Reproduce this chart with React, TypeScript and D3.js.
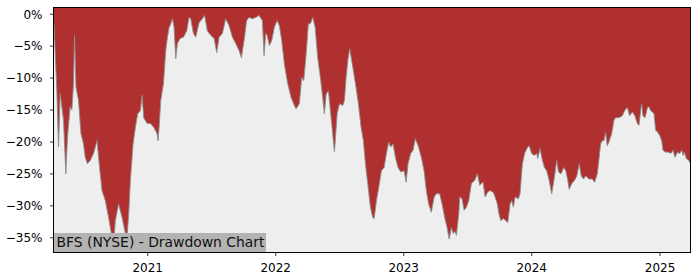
import React from "react";
import * as d3 from "d3";

// Dates as decimal years, drawdown in percent
const years: number[] = [
  2020.266, 2020.271, 2020.292, 2020.305, 2020.318, 2020.344, 2020.362, 2020.375, 2020.396, 2020.409,
  2020.422, 2020.430, 2020.441, 2020.461, 2020.480, 2020.500, 2020.513, 2020.531, 2020.552, 2020.578,
  2020.605, 2020.625, 2020.644, 2020.670, 2020.695, 2020.716, 2020.730, 2020.748, 2020.773, 2020.800,
  2020.826, 2020.839, 2020.852, 2020.865, 2020.886, 2020.904, 2020.922, 2020.943, 2020.956, 2020.969,
  2020.995, 2021.021, 2021.047, 2021.073, 2021.081, 2021.089, 2021.102, 2021.123, 2021.141, 2021.154,
  2021.167, 2021.180, 2021.193, 2021.206, 2021.219, 2021.232, 2021.253, 2021.279, 2021.305, 2021.323,
  2021.336, 2021.357, 2021.375, 2021.402, 2021.427, 2021.445, 2021.466, 2021.492, 2021.519, 2021.539,
  2021.558, 2021.584, 2021.609, 2021.636, 2021.662, 2021.688, 2021.714, 2021.732, 2021.753, 2021.773,
  2021.792, 2021.818, 2021.844, 2021.870, 2021.896, 2021.909, 2021.922, 2021.933, 2021.951, 2021.969,
  2021.990, 2022.011, 2022.029, 2022.047, 2022.068, 2022.094, 2022.120, 2022.146, 2022.159, 2022.185,
  2022.203, 2022.219, 2022.238, 2022.255, 2022.271, 2022.289, 2022.308, 2022.328, 2022.349, 2022.367,
  2022.380, 2022.394, 2022.412, 2022.433, 2022.445, 2022.459, 2022.480, 2022.498, 2022.523, 2022.537,
  2022.550, 2022.563, 2022.578, 2022.594, 2022.609, 2022.628, 2022.646, 2022.667, 2022.685, 2022.701,
  2022.719, 2022.740, 2022.758, 2022.769, 2022.787, 2022.805, 2022.826, 2022.847, 2022.865, 2022.883,
  2022.898, 2022.917, 2022.935, 2022.956, 2022.977, 2023.003, 2023.019, 2023.034, 2023.055, 2023.073,
  2023.091, 2023.113, 2023.138, 2023.159, 2023.177, 2023.195, 2023.216, 2023.238, 2023.255, 2023.281,
  2023.300, 2023.320, 2023.339, 2023.355, 2023.373, 2023.386, 2023.400, 2023.412, 2023.430, 2023.438,
  2023.456, 2023.472, 2023.490, 2023.508, 2023.529, 2023.555, 2023.576, 2023.594, 2023.605, 2023.620,
  2023.636, 2023.655, 2023.673, 2023.701, 2023.714, 2023.732, 2023.745, 2023.758, 2023.779, 2023.797,
  2023.813, 2023.831, 2023.844, 2023.857, 2023.870, 2023.896, 2023.909, 2023.927, 2023.948, 2023.969,
  2023.980, 2024.000, 2024.021, 2024.039, 2024.047, 2024.066, 2024.078, 2024.099, 2024.117, 2024.136,
  2024.156, 2024.177, 2024.195, 2024.209, 2024.229, 2024.248, 2024.266, 2024.281, 2024.292, 2024.313,
  2024.334, 2024.352, 2024.370, 2024.386, 2024.404, 2024.422, 2024.445, 2024.472, 2024.490, 2024.511,
  2024.523, 2024.537, 2024.550, 2024.563, 2024.576, 2024.589, 2024.602, 2024.623, 2024.641, 2024.654,
  2024.680, 2024.706, 2024.727, 2024.745, 2024.763, 2024.784, 2024.804, 2024.823, 2024.836, 2024.849,
  2024.857, 2024.867, 2024.883, 2024.902, 2024.914, 2024.927, 2024.941, 2024.953, 2024.966, 2024.980,
  2024.998, 2025.013, 2025.023, 2025.045, 2025.070, 2025.084, 2025.102, 2025.117, 2025.136, 2025.153,
  2025.170, 2025.180, 2025.190, 2025.205, 2025.225, 2025.238,
];

const drawdown: number[] = [
  -1.0, -2.2, -12.0, -20.8, -12.4, -16.6, -25.0, -19.2, -14.5, -15.0,
  -10.9, -3.3, -11.4, -13.5, -18.7, -20.3, -22.4, -23.4, -22.9, -21.8,
  -19.8, -24.0, -27.6, -29.2, -31.8, -34.3, -36.8, -32.3, -29.7, -31.8,
  -34.3, -35.0, -31.3, -26.0, -20.3, -17.7, -15.6, -15.1, -12.7, -16.2,
  -17.1, -17.1, -17.7, -18.7, -19.8, -17.7, -13.5, -10.9, -5.7, -3.6,
  -2.1, -1.5, -0.7, -2.0, -7.0, -4.6, -3.8, -3.6, -2.6, -0.5,
  -0.7, -3.0, -3.6, -1.3, -0.7, -0.2, -2.6, -3.3, -3.8, -6.0,
  -3.6, -3.0, -0.7, -1.8, -3.6, -4.6, -5.7, -6.8, -4.1, -1.0,
  -0.5, -0.7, -0.5, -0.2, -1.0, -6.5, -3.0, -3.3, -4.9, -4.1,
  -2.0, -1.0, -1.8, -4.1, -7.8, -10.9, -13.0, -14.3, -14.8, -14.0,
  -9.9, -10.4, -6.2, -1.5, -1.5, -0.5, -2.0, -6.8, -9.9, -13.0,
  -15.6, -12.5, -12.0, -16.2, -18.7, -21.6, -15.6, -14.0, -14.3, -13.5,
  -9.9, -7.3, -5.4, -7.3, -9.1, -11.5, -14.0, -17.7, -19.8, -23.4,
  -26.5, -30.2, -31.8, -32.0, -29.2, -27.1, -24.5, -24.0, -21.8, -20.0,
  -20.8, -20.3, -22.4, -24.0, -24.7, -24.5, -26.3, -23.4, -21.8, -21.3,
  -19.5, -20.6, -22.4, -24.5, -27.6, -29.7, -31.0, -28.6, -28.1, -28.1,
  -29.7, -31.8, -33.4, -35.2, -33.4, -34.3, -34.0, -34.6, -31.3, -28.6,
  -28.9, -30.7, -30.2, -29.2, -26.5, -26.0, -25.0, -26.8, -26.5, -26.3,
  -28.6, -27.9, -27.6, -27.9, -28.6, -29.7, -31.3, -32.3, -32.0, -32.3,
  -32.6, -29.7, -29.2, -30.2, -28.6, -28.9, -28.1, -23.4, -21.6, -20.8,
  -20.6, -21.8, -22.1, -21.8, -22.6, -21.0, -22.4, -24.0, -24.5, -26.0,
  -28.1, -25.5, -22.9, -24.7, -25.0, -24.0, -24.5, -26.0, -27.4, -26.5,
  -26.0, -25.3, -23.4, -25.3, -25.8, -25.3, -25.8, -25.8, -26.3, -25.0,
  -22.9, -20.3, -19.8, -19.8, -18.5, -20.6, -20.0, -18.7, -16.6, -16.2,
  -16.2, -15.9, -15.0, -14.6, -15.9, -15.3, -15.9, -17.1, -17.4, -15.1,
  -14.0, -15.9, -16.2, -14.6, -14.5, -15.1, -15.3, -15.6, -18.2, -18.4,
  -19.0, -19.8, -21.3, -21.6, -21.6, -21.8, -21.3, -22.4, -21.6, -21.8,
  -21.3, -22.1, -21.6, -22.6, -22.9, -23.4,
];

const yTicks: number[] = [0, -5, -10, -15, -20, -25, -30, -35];
const yTickLabels: string[] = ["0%", "\u22125%", "\u221210%", "\u221215%", "\u221220%", "\u221225%", "\u221230%", "\u221235%"];
const xTickYears: number[] = [2021, 2022, 2023, 2024, 2025];
const title = "BFS (NYSE) - Drawdown Chart";
const yDomain: [number, number] = [-37.3, 1.05];

function fromDecimalYear(v: number): Date {
  const y = Math.floor(v);
  const s = Date.UTC(y, 0, 1);
  const e = Date.UTC(y + 1, 0, 1);
  return new Date(s + (v - y) * (e - s));
}

const W = 700;
const H = 280;
const M = { left: 53.5, right: 690.5, top: 7.5, bottom: 252.5 };
const FONT = "DejaVu Sans, sans-serif";

export default function App() {
  const data = years.map((yr, i) => ({ date: fromDecimalYear(yr), v: drawdown[i] }));
  const x = d3
    .scaleUtc()
    .domain([data[0].date, data[data.length - 1].date])
    .range([M.left, M.right]);
  const y = d3.scaleLinear().domain(yDomain).range([M.bottom, M.top]);

  const area = d3
    .area<{ date: Date; v: number }>()
    .x((d) => x(d.date))
    .y0(M.top)
    .y1((d) => y(d.v));
  const line = d3
    .line<{ date: Date; v: number }>()
    .x((d) => x(d.date))
    .y((d) => y(d.v));

  return (
    <svg
      width={W}
      height={H}
      style={{ position: "absolute", left: 0, top: 0, display: "block" }}
      fontFamily={FONT}
    >
      <rect x={0} y={0} width={W} height={H} fill="#ffffff" />
      <rect x={M.left} y={M.top} width={M.right - M.left} height={M.bottom - M.top} fill="#eeeeee" />
      <path d={area(data) || ""} fill="#b03030" />
      <path d={line(data) || ""} fill="none" stroke="#8c8c8c" strokeWidth={0.9} />

      {/* title box */}
      <rect x={M.left} y={233} width={212.5} height={M.bottom - 233} fill="#b3b3b3" />
      <text x={56.5} y={246.8} fontSize={13.9} fill="#111">
        {title}
      </text>

      {/* spines */}
      <rect
        x={M.left}
        y={M.top}
        width={M.right - M.left}
        height={M.bottom - M.top}
        fill="none"
        stroke="#000"
        strokeWidth={1}
      />

      {/* y ticks */}
      {yTicks.map((t, i) => (
        <g key={"y" + t}>
          <line x1={M.left - 3.5} x2={M.left} y1={y(t)} y2={y(t)} stroke="#000" strokeWidth={0.8} />
          <text x={M.left - 11} y={y(t)} dy="0.36em" textAnchor="end" fontSize={12} fill="#000">
            {yTickLabels[i]}
          </text>
        </g>
      ))}

      {/* x ticks */}
      {xTickYears.map((yr) => {
        const px = x(new Date(Date.UTC(yr, 0, 1)));
        return (
          <g key={"x" + yr}>
            <line x1={px} x2={px} y1={M.bottom} y2={M.bottom + 3.5} stroke="#000" strokeWidth={0.8} />
            <text x={px} y={271.5} textAnchor="middle" fontSize={12} fill="#000">
              {d3.utcFormat("%Y")(new Date(Date.UTC(yr, 0, 1)))}
            </text>
          </g>
        );
      })}
    </svg>
  );
}
